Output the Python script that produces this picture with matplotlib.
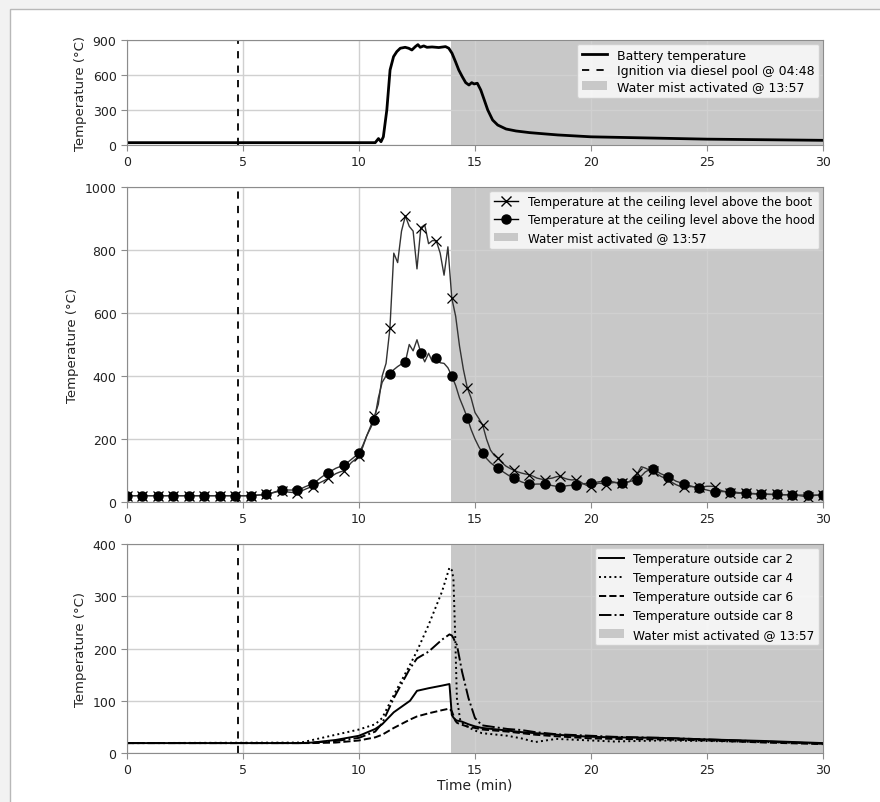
import numpy as np
import matplotlib
matplotlib.use("Agg")
import matplotlib.pyplot as plt
from matplotlib.lines import Line2D
from matplotlib.patches import Patch, Rectangle

# --- data ---
ignition_t = 4.8       # 04:48
mist_t = 13.95         # 13:57

# battery temperature (top panel)
bat_t = [0, 10.7, 10.84, 10.95, 11.05, 11.2, 11.34, 11.49, 11.63, 11.78,
         11.99, 12.14, 12.28, 12.43, 12.54, 12.64, 12.79, 12.93, 13.15, 13.44,
         13.73, 13.87, 14.01, 14.16, 14.3, 14.45, 14.6, 14.74, 14.86, 14.96,
         15.1, 15.25, 15.4, 15.55, 15.76, 15.98, 16.34, 16.77, 17.35, 18.07,
         18.57, 20, 22, 25, 27.5, 30]
bat_v = [20, 20, 55, 28, 70, 300, 643, 757, 800, 829,
         837, 829, 814, 843, 860, 837, 849, 837, 840, 835,
         843, 829, 786, 714, 643, 586, 534, 514, 534, 523,
         529, 471, 386, 300, 214, 171, 137, 120, 106, 94,
         86, 70, 62, 50, 45, 40]

# ceiling temperatures (middle panel), one sample every 10 s
ceil_t = np.arange(181) / 6.0
boot_v = [20, 20, 20, 20, 20, 20, 20, 20, 20, 20, 20, 20,
          20, 20, 20, 20, 20, 20, 20, 20, 20, 20, 20, 20,
          20, 20, 20, 20, 20, 20, 20, 20, 20, 21, 22, 23,
          24, 27, 30, 33, 34, 33,
          31, 30, 30, 34, 40, 45,
          49, 55, 62, 68, 75, 82,
          90, 95, 99, 110, 125, 135,
          146, 175, 210, 240, 273, 310,
          400, 440, 551, 790, 760, 860,
          908, 875, 860, 740, 871, 880,
          820, 830, 829, 790, 720, 810,
          647, 590, 495, 421, 363, 330,
          284, 265, 244, 199, 165, 148,
          139, 125, 114, 107, 101, 96,
          92, 89, 87, 82, 76, 73,
          71, 74, 76, 80, 82, 76,
          72, 70, 71, 66, 58, 52,
          49, 55, 60, 58, 55, 60,
          62, 60, 60, 62, 65, 80,
          91, 112, 108, 102, 98, 90,
          82, 76, 71, 62, 55, 50,
          47, 48, 49, 48, 47, 48,
          50, 50, 49, 40, 35, 32,
          30, 29, 28, 28, 27, 26,
          26, 25, 25, 25, 24, 24,
          24, 24, 23, 23, 23, 22,
          20, 18, 17, 19, 21, 22,
          22]
hood_v = [20, 20, 20, 20, 20, 20, 20, 20, 20, 20, 20, 20,
          20, 20, 20, 20, 20, 20, 20, 20, 20, 20, 20, 20,
          20, 20, 20, 20, 20, 20, 20, 20, 20, 21, 22, 23,
          24, 27, 31, 35, 38, 38,
          38, 38, 38, 42, 48, 53,
          57, 66, 76, 85, 93, 100,
          107, 112, 117, 125, 135, 145,
          155, 180, 210, 235, 260, 330,
          380, 400, 407, 420, 430, 438,
          445, 500, 480, 515, 474, 445,
          472, 445, 458, 442, 440, 426,
          400, 370, 330, 300, 268, 230,
          200, 175, 155, 138, 125, 115,
          107, 98, 90, 82, 76, 70,
          64, 60, 56, 56, 57, 57,
          57, 55, 52, 50, 49, 50,
          52, 53, 54, 56, 58, 59,
          60, 62, 64, 66, 68, 66,
          63, 61, 60, 62, 65, 68,
          71, 82, 95, 102, 104, 98,
          90, 85, 80, 73, 66, 62,
          58, 54, 50, 47, 45, 41,
          38, 35, 33, 33, 33, 33,
          33, 32, 30, 29, 28, 27,
          27, 26, 26, 25, 25, 24,
          24, 23, 23, 23, 22, 22,
          22, 22, 22, 22, 22, 22,
          22]

# outside car temperatures (bottom panel)
car_t = [0, 7.5, 8, 9, 10, 10.7, 11, 11.5, 12.2, 12.5, 13, 13.58, 13.9, 14.0,
         14.07, 14.15, 14.22, 14.36, 14.44, 14.72, 15, 15.3, 16.4, 17, 17.6,
         18.5, 20, 21, 23, 25, 27.5, 30]
car2 = [19, 19, 20, 25, 33, 46, 55, 78, 100, 119, 124, 129, 132, 73,
        68, 64, 62, 61, 60, 55, 51, 48, 43, 40, 38,
        35, 31, 30, 29, 26, 23, 19]
car4 = [19, 20, 25, 35, 45, 55, 67, 111, 169, 195, 245, 309, 355, 350,
        334, 220, 105, 64, 58, 49, 43, 38, 33, 28, 21,
        27, 24, 22, 24, 23, 21, 18]
car6 = [19, 19, 19, 20, 24, 30, 35, 48, 64, 70, 76, 82, 85, 80,
        72, 62, 58, 55, 54, 50, 48, 45, 41, 38, 35,
        32, 28, 27, 26, 24, 20, 17]
car8 = [19, 19, 20, 23, 29, 41, 57, 105, 162, 181, 194, 217, 227, 225,
        220, 212, 207, 175, 156, 105, 67, 53, 46, 44, 40,
        36, 33, 31, 29, 26, 22, 18]

xticks = [0, 5, 10, 15, 20, 25, 30]
mist_label = "Water mist activated @ 13:57"
span_col = "#c8c8c8"

plt.rcParams["font.family"] = "DejaVu Sans"
plt.rcParams["xtick.labelsize"] = 9
plt.rcParams["ytick.labelsize"] = 9

fig = plt.figure(figsize=(8.8, 8.03), dpi=100, facecolor="#f2f2f2")
fig.patches.append(Rectangle((10 / 880, -0.01), 1.0, 1 - 10 / 803 + 0.01,
                             transform=fig.transFigure, facecolor="white",
                             edgecolor="#b8b8b8", lw=1, zorder=-10))

ax1 = fig.add_axes([0.1443, 0.8182, 0.7909, 0.1308])
ax2 = fig.add_axes([0.1443, 0.3736, 0.7909, 0.3923])
ax3 = fig.add_axes([0.1443, 0.0610, 0.7909, 0.2603])


def style(ax, ymax, yt):
    ax.axvspan(mist_t, 30, color=span_col, lw=0, zorder=0.5)
    ax.set_xlim(0, 30)
    ax.set_ylim(0, ymax)
    ax.set_xticks(xticks)
    ax.set_yticks(yt)
    ax.grid(True, color="#d0d0d0", lw=1)
    for s in ax.spines.values():
        s.set_color("#8c8c8c")
    ax.tick_params(colors="#8c8c8c", labelcolor="#222222", length=4)
    ax.set_ylabel("Temperature (°C)", fontsize=9.5, color="#222222")


# top: battery
style(ax1, 900, [0, 300, 600, 900])
ax1.plot(bat_t, bat_v, color="black", lw=2)
ax1.axvline(ignition_t, color="black", ls=(0, (4, 4)), lw=1.3)
h1 = [Line2D([], [], color="black", lw=2),
      Line2D([], [], color="black", ls=(0, (4, 4)), lw=1.3),
      Patch(facecolor=span_col)]
ax1.legend(h1, ["Battery temperature", "Ignition via diesel pool @ 04:48", mist_label],
           loc="upper right", fontsize=9, labelspacing=0.2, borderaxespad=0.3)

# middle: ceiling
style(ax2, 1000, [0, 200, 400, 600, 800, 1000])
ax2.axvline(ignition_t, color="black", ls=(0, (4, 4)), lw=1.3)
ax2.plot(ceil_t, boot_v, color="#333333", lw=1, marker="x", markevery=4,
         ms=6.5, mec="black", mew=0.9)
ax2.plot(ceil_t, hood_v, color="#333333", lw=1, marker="o", markevery=4,
         ms=6.5, mfc="black", mec="black")
h2 = [Line2D([], [], color="black", lw=1, marker="x", ms=6.5),
      Line2D([], [], color="black", lw=1, marker="o", ms=6.5),
      Patch(facecolor=span_col)]
ax2.legend(h2, ["Temperature at the ceiling level above the boot",
                "Temperature at the ceiling level above the hood", mist_label],
           loc="upper right", fontsize=8.6, labelspacing=0.42, borderaxespad=0.3)

# bottom: outside cars
style(ax3, 400, [0, 100, 200, 300, 400])
ax3.axvline(ignition_t, color="black", ls=(0, (4, 4)), lw=1.3)
ax3.plot(car_t, car2, color="black", lw=1.4, ls="-")
ax3.plot(car_t, car4, color="black", lw=1.4, ls=":")
ax3.plot(car_t, car6, color="black", lw=1.4, ls="--")
ax3.plot(car_t, car8, color="black", lw=1.4, ls="-.")
h3 = [Line2D([], [], color="black", lw=1.4, ls="-"),
      Line2D([], [], color="black", lw=1.4, ls=":"),
      Line2D([], [], color="black", lw=1.4, ls="--"),
      Line2D([], [], color="black", lw=1.4, ls="-."),
      Patch(facecolor=span_col)]
ax3.legend(h3, ["Temperature outside car 2", "Temperature outside car 4",
                "Temperature outside car 6", "Temperature outside car 8", mist_label],
           loc="upper right", fontsize=8.7, labelspacing=0.48, borderaxespad=0.3)
ax3.set_xlabel("Time (min)", fontsize=10, color="#222222", labelpad=1)

fig.savefig("out.png", dpi=100, facecolor=fig.get_facecolor())
